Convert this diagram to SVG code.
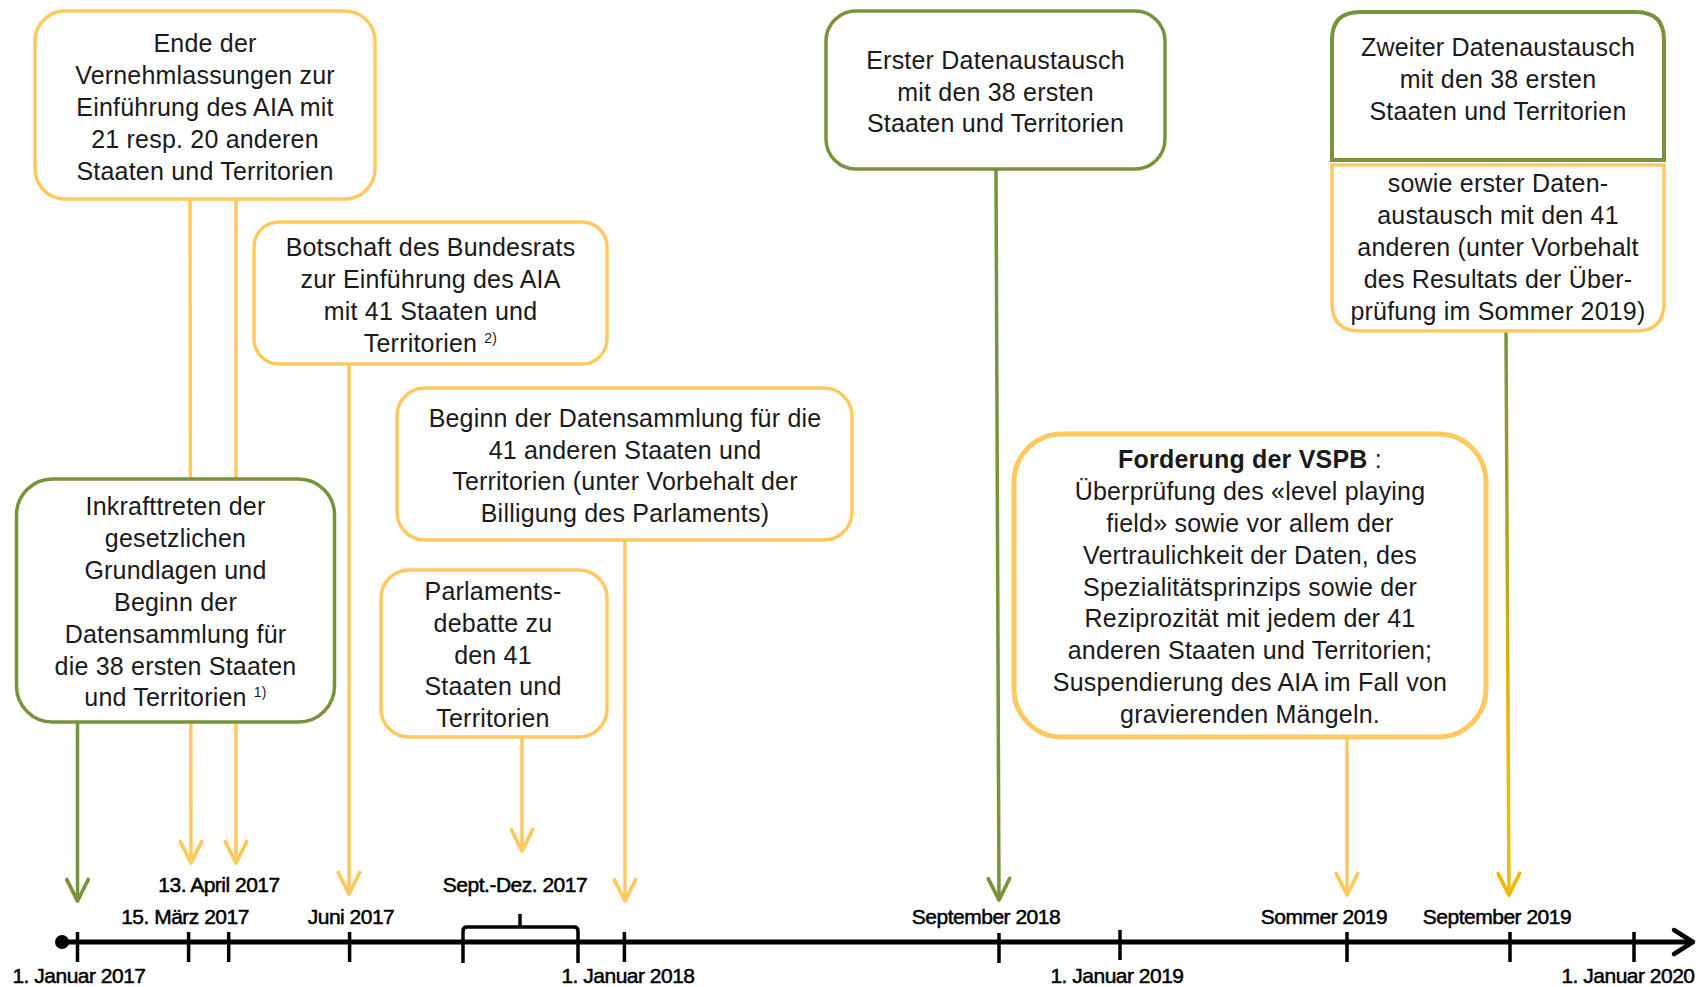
<svg xmlns="http://www.w3.org/2000/svg" width="1700" height="987" viewBox="0 0 1700 987">
<style>
.by{fill:#fff;stroke:#FFC95F;stroke-width:3.5}
.bg{fill:#fff;stroke:#77933C;stroke-width:3.5}
.t{font-family:"Liberation Sans",Arial,sans-serif;font-size:25px;fill:#1a1a1a;text-anchor:middle;letter-spacing:0.2px}
.d{font-family:"Liberation Sans",Arial,sans-serif;font-size:21px;fill:#000;stroke:#000;stroke-width:0.5;text-anchor:middle;letter-spacing:-0.5px}
.sup{font-size:14px}
.ly{fill:none;stroke:#FFC95F;stroke-width:3.5}
.lg{fill:none;stroke:#77933C;stroke-width:3.5}
.ax{fill:none;stroke:#000;stroke-width:3.5}
</style>
<defs>
<marker id="my" markerUnits="userSpaceOnUse" markerWidth="30" markerHeight="30" viewBox="-24 -14 28 28" refX="0" refY="0" orient="auto"><path d="M-20,-10 L0,0 L-20,10" fill="none" stroke="#FFC95F" stroke-width="3.5" stroke-linecap="round" stroke-linejoin="round"/></marker>
<marker id="mg" markerUnits="userSpaceOnUse" markerWidth="30" markerHeight="30" viewBox="-24 -14 28 28" refX="0" refY="0" orient="auto"><path d="M-20,-10 L0,0 L-20,10" fill="none" stroke="#77933C" stroke-width="3.5" stroke-linecap="round" stroke-linejoin="round"/></marker>
<marker id="mo" markerUnits="userSpaceOnUse" markerWidth="30" markerHeight="30" viewBox="-24 -14 28 28" refX="0" refY="0" orient="auto"><path d="M-20,-10 L0,0 L-20,10" fill="none" stroke="#F5B800" stroke-width="3.5" stroke-linecap="round" stroke-linejoin="round"/></marker>
<linearGradient id="gz" gradientUnits="userSpaceOnUse" x1="0" y1="331" x2="0" y2="760"><stop offset="0" stop-color="#77933C"/><stop offset="1" stop-color="#F5B800"/></linearGradient>
</defs>

<g id="connectors">
<line class="ly" x1="190" y1="199" x2="191" y2="863" marker-end="url(#my)"/>
<line class="ly" x1="236" y1="199" x2="236" y2="863" marker-end="url(#my)"/>
<line class="ly" x1="349" y1="364" x2="349" y2="894" marker-end="url(#my)"/>
<line class="ly" x1="522" y1="737" x2="522" y2="851" marker-end="url(#my)"/>
<line class="ly" x1="625" y1="540" x2="625" y2="901" marker-end="url(#my)"/>
<line class="lg" x1="77.5" y1="722" x2="77.5" y2="901" marker-end="url(#mg)"/>
<line class="lg" x1="996" y1="169" x2="999" y2="900" marker-end="url(#mg)"/>
<line class="ly" x1="1347" y1="738" x2="1347" y2="895" marker-end="url(#my)"/>
<line x1="1506" y1="331" x2="1509" y2="895" stroke="url(#gz)" stroke-width="3.5" marker-end="url(#mo)"/>
</g>

<g id="timeline">
<line x1="62" y1="942" x2="1690" y2="942" stroke="#000" stroke-width="5"/>
<path d="M1674,930 L1693,942 L1674,954" fill="none" stroke="#000" stroke-width="4.5" stroke-linecap="round" stroke-linejoin="round"/>
<circle cx="62" cy="942" r="7" fill="#000"/>
<path class="ax" d="M77.5,932V962 M188.6,932V962 M228.7,932V962 M349.6,932V962 M624.4,932V962 M999,933V963 M1120,930V960 M1347,932V962 M1510,932V962 M1634,932V962"/>
<path class="ax" d="M463,963 V931 Q463,927 467,927 H574 Q578,927 578,931 V963 M520,927 V914"/>
<text class="d" x="219" y="892">13. April 2017</text>
<text class="d" x="185" y="924">15. März 2017</text>
<text class="d" x="351" y="924">Juni 2017</text>
<text class="d" x="515" y="892">Sept.-Dez. 2017</text>
<text class="d" x="79" y="983">1. Januar 2017</text>
<text class="d" x="628" y="983">1. Januar 2018</text>
<text class="d" x="986" y="924">September 2018</text>
<text class="d" x="1117" y="983">1. Januar 2019</text>
<text class="d" x="1324" y="924">Sommer 2019</text>
<text class="d" x="1497" y="924">September 2019</text>
<text class="d" x="1628" y="983">1. Januar 2020</text>
</g>

<g id="n-vernehmlassung">
<rect class="by" x="35" y="11" width="340" height="188" rx="30"/>
<text class="t" x="205" y="52">Ende der</text>
<text class="t" x="205" y="84">Vernehmlassungen zur</text>
<text class="t" x="205" y="116">Einführung des AIA mit</text>
<text class="t" x="205" y="148">21 resp. 20 anderen</text>
<text class="t" x="205" y="180">Staaten und Territorien</text>
</g>

<g id="n-botschaft">
<rect class="by" x="254" y="222" width="353" height="142" rx="25"/>
<text class="t" x="430.5" y="256">Botschaft des Bundesrats</text>
<text class="t" x="430.5" y="288">zur Einführung des AIA</text>
<text class="t" x="430.5" y="320">mit 41 Staaten und</text>
<text class="t" x="430.5" y="352">Territorien <tspan class="sup" dy="-9">2)</tspan></text>
</g>

<g id="n-inkrafttreten">
<rect class="bg" x="16.5" y="479" width="318" height="243" rx="36"/>
<text class="t" x="175.5" y="515">Inkrafttreten der</text>
<text class="t" x="175.5" y="547">gesetzlichen</text>
<text class="t" x="175.5" y="579">Grundlagen und</text>
<text class="t" x="175.5" y="611">Beginn der</text>
<text class="t" x="175.5" y="643">Datensammlung für</text>
<text class="t" x="175.5" y="675">die 38 ersten Staaten</text>
<text class="t" x="175.5" y="706">und Territorien <tspan class="sup" dy="-9">1)</tspan></text>
</g>

<g id="n-beginn41">
<rect class="by" x="397" y="388" width="455" height="152" rx="28"/>
<text class="t" x="625" y="427">Beginn der Datensammlung für die</text>
<text class="t" x="625" y="459">41 anderen Staaten und</text>
<text class="t" x="625" y="490">Territorien (unter Vorbehalt der</text>
<text class="t" x="625" y="522">Billigung des Parlaments)</text>
</g>

<g id="n-parlament">
<rect class="by" x="381" y="570" width="226" height="167" rx="28"/>
<text class="t" x="493" y="600">Parlaments-</text>
<text class="t" x="493" y="632">debatte zu</text>
<text class="t" x="493" y="664">den 41</text>
<text class="t" x="493" y="695">Staaten und</text>
<text class="t" x="493" y="727">Territorien</text>
</g>

<g id="n-erster">
<rect class="bg" x="826" y="11" width="339" height="158" rx="30"/>
<text class="t" x="995.5" y="69">Erster Datenaustausch</text>
<text class="t" x="995.5" y="101">mit den 38 ersten</text>
<text class="t" x="995.5" y="132">Staaten und Territorien</text>
</g>

<g id="n-vspb">
<rect x="1014" y="434" width="472" height="303" rx="48" fill="#fff" stroke="#FFC95F" stroke-width="5"/>
<text class="t" x="1250" y="468"><tspan font-weight="bold">Forderung der VSPB</tspan> :</text>
<text class="t" x="1250" y="500">Überprüfung des «level playing</text>
<text class="t" x="1250" y="532">field» sowie vor allem der</text>
<text class="t" x="1250" y="564">Vertraulichkeit der Daten, des</text>
<text class="t" x="1250" y="596">Spezialitätsprinzips sowie der</text>
<text class="t" x="1250" y="627">Reziprozität mit jedem der 41</text>
<text class="t" x="1250" y="659">anderen Staaten und Territorien;</text>
<text class="t" x="1250" y="691">Suspendierung des AIA im Fall von</text>
<text class="t" x="1250" y="723">gravierenden Mängeln.</text>
</g>

<g id="n-zweiter">
<path d="M1332,160 V40 Q1332,12 1360,12 H1636 Q1664,12 1664,40 V160 Z" fill="#fff" stroke="#77933C" stroke-width="4"/>
<path d="M1332,165 H1664 V303 Q1664,331 1636,331 H1360 Q1332,331 1332,303 Z" fill="#fff" stroke="#FFC95F" stroke-width="3.5"/>
<text class="t" x="1498" y="56">Zweiter Datenaustausch</text>
<text class="t" x="1498" y="88">mit den 38 ersten</text>
<text class="t" x="1498" y="120">Staaten und Territorien</text>
<text class="t" x="1498" y="192">sowie erster Daten-</text>
<text class="t" x="1498" y="224">austausch mit den 41</text>
<text class="t" x="1498" y="256">anderen (unter Vorbehalt</text>
<text class="t" x="1498" y="288">des Resultats der Über-</text>
<text class="t" x="1498" y="320">prüfung im Sommer 2019)</text>
</g>
</svg>
